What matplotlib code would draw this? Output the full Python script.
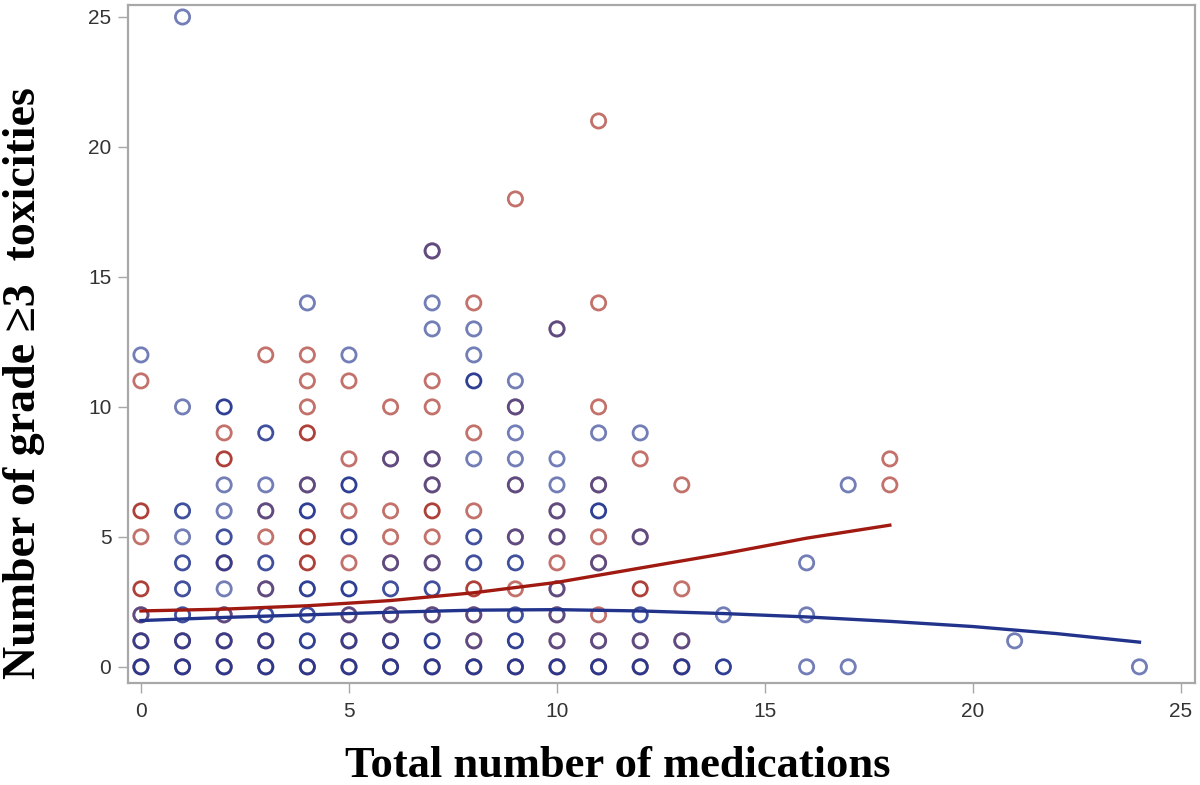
import numpy as np
import matplotlib
matplotlib.use("Agg")
import matplotlib.pyplot as plt

# Scatter data: (x, y, overlap count) for each group
blue_x = [0, 0, 0, 0,
          1, 1, 1, 1, 1, 1, 1, 1, 1,
          2, 2, 2, 2, 2, 2, 2, 2, 2,
          3, 3, 3, 3, 3, 3, 3, 3,
          4, 4, 4, 4, 4, 4, 4,
          5, 5, 5, 5, 5, 5, 5,
          6, 6, 6, 6, 6, 6,
          7, 7, 7, 7, 7, 7, 7, 7, 7, 7,
          8, 8, 8, 8, 8, 8, 8, 8, 8,
          9, 9, 9, 9, 9, 9, 9, 9, 9, 9,
          10, 10, 10, 10, 10, 10, 10, 10, 10,
          11, 11, 11, 11, 11, 11,
          12, 12, 12, 12, 12,
          13, 13, 14, 14, 16, 16, 16, 17, 17, 21, 24]
blue_y = [12, 2, 1, 0,
          25, 10, 6, 5, 4, 3, 2, 1, 0,
          10, 7, 6, 5, 4, 3, 2, 1, 0,
          9, 7, 6, 4, 3, 2, 1, 0,
          14, 7, 6, 3, 2, 1, 0,
          12, 7, 5, 3, 2, 1, 0,
          8, 4, 3, 2, 1, 0,
          16, 14, 13, 8, 7, 4, 3, 2, 1, 0,
          13, 12, 11, 8, 5, 4, 2, 1, 0,
          11, 10, 9, 8, 7, 5, 4, 2, 1, 0,
          13, 8, 7, 6, 5, 3, 2, 1, 0,
          9, 7, 6, 4, 1, 0,
          9, 5, 2, 1, 0,
          1, 0, 2, 0, 4, 2, 0, 7, 0, 1, 0]
blue_n = [1, 1, 2, 3,
          1, 1, 2, 1, 2, 2, 2, 2, 3,
          3, 1, 1, 2, 2, 1, 1, 2, 3,
          2, 1, 1, 2, 1, 2, 2, 3,
          1, 1, 3, 3, 2, 3, 3,
          1, 3, 3, 3, 1, 2, 3,
          1, 1, 2, 1, 2, 3,
          1, 1, 1, 1, 1, 1, 2, 1, 3, 3,
          1, 1, 3, 1, 2, 2, 1, 1, 3,
          1, 1, 1, 1, 1, 1, 2, 2, 3, 3,
          1, 1, 1, 1, 1, 1, 1, 1, 3,
          1, 1, 3, 1, 1, 3,
          1, 1, 2, 1, 3,
          1, 3, 1, 3, 1, 1, 1, 1, 1, 1, 1]

red_x = [0, 0, 0, 0, 0, 0, 0,
         1, 1,
         2, 2, 2, 2, 2, 2,
         3, 3, 3, 3, 3, 3,
         4, 4, 4, 4, 4, 4, 4, 4,
         5, 5, 5, 5, 5, 5, 5,
         6, 6, 6, 6, 6, 6, 6, 6,
         7, 7, 7, 7, 7, 7, 7, 7, 7, 7,
         8, 8, 8, 8, 8, 8, 8,
         9, 9, 9, 9, 9, 9,
         10, 10, 10, 10, 10, 10, 10, 10,
         11, 11, 11, 11, 11, 11, 11, 11, 11,
         12, 12, 12, 12, 12,
         13, 13, 13, 13,
         18, 18]
red_y = [11, 6, 5, 3, 2, 1, 0,
         1, 0,
         9, 8, 4, 2, 1, 0,
         12, 6, 5, 3, 1, 0,
         12, 11, 10, 9, 7, 5, 4, 0,
         11, 8, 6, 4, 2, 1, 0,
         10, 8, 6, 5, 4, 2, 1, 0,
         16, 11, 10, 8, 7, 6, 5, 4, 2, 0,
         14, 9, 6, 3, 2, 1, 0,
         18, 10, 7, 5, 3, 0,
         13, 6, 5, 4, 3, 2, 1, 0,
         21, 14, 10, 7, 5, 4, 2, 1, 0,
         8, 5, 3, 1, 0,
         7, 3, 1, 0,
         8, 7]
red_n = [1, 2, 1, 2, 1, 1, 1,
         1, 1,
         1, 2, 1, 1, 1, 1,
         1, 1, 1, 1, 1, 1,
         1, 1, 1, 2, 1, 2, 2, 1,
         1, 1, 1, 1, 1, 1, 1,
         1, 1, 1, 1, 1, 1, 1, 1,
         1, 1, 1, 1, 1, 2, 1, 1, 1, 1,
         1, 1, 1, 2, 1, 1, 1,
         1, 1, 1, 1, 1, 1,
         1, 1, 1, 1, 1, 1, 1, 1,
         1, 1, 1, 1, 1, 1, 1, 1, 1,
         1, 1, 2, 1, 1,
         1, 1, 1, 1,
         1, 1]

# Fitted curves
red_fit_x = [0, 2, 4, 6, 8, 10, 12, 14, 16, 18]
red_fit_y = [2.15, 2.22, 2.35, 2.55, 2.85, 3.25, 3.8, 4.35, 4.95, 5.45]
blue_fit_x = [0, 2, 4, 6, 8, 10, 12, 14, 16, 18, 20, 22, 24]
blue_fit_y = [1.78, 1.9, 2.0, 2.1, 2.18, 2.2, 2.15, 2.05, 1.92, 1.75, 1.55, 1.28, 0.95]

x_ticks = [0, 5, 10, 15, 20, 25]
y_ticks = [0, 5, 10, 15, 20, 25]


def edge_colors(base, counts, alpha):
    cols = np.zeros((len(counts), 4))
    cols[:, :3] = base
    cols[:, 3] = [1 - (1 - alpha) ** n for n in counts]
    return cols


fig = plt.figure(figsize=(12, 7.85), dpi=100)
ax = fig.add_axes([0.1067, 0.130, 0.8893, 0.8636])

ax.scatter(red_x, red_y, s=105, facecolors="none",
           edgecolors=edge_colors((0.64, 0.16, 0.12), red_n, 0.66),
           linewidths=2.0, zorder=2)
ax.scatter(blue_x, blue_y, s=105, facecolors="none",
           edgecolors=edge_colors((0.14, 0.21, 0.56), blue_n, 0.64),
           linewidths=2.0, zorder=3)

ax.plot(red_fit_x, red_fit_y, color="#a01a12", lw=2.4, zorder=4)
ax.plot(blue_fit_x, blue_fit_y, color="#22338c", lw=2.4, zorder=4)

ax.set_xlim(-0.31, 25.34)
ax.set_ylim(-0.62, 25.46)
ax.set_xticks(x_ticks)
ax.set_yticks(y_ticks)

for sp in ax.spines.values():
    sp.set_color("#a8a8a8")
    sp.set_linewidth(1.6)

ax.tick_params(axis="both", colors="#a8a8a8", length=7, width=1.0,
               labelcolor="#333333", labelsize=15)
ax.tick_params(axis="x", pad=7)
ax.tick_params(axis="y", pad=5)
for lab in ax.get_xticklabels() + ax.get_yticklabels():
    lab.set_family(["Liberation Sans", "DejaVu Sans"])

fig.text(618 / 1200, 1 - 766 / 785, "Total number of medications",
         ha="center", va="center", fontsize=32, fontweight="bold",
         family=["Liberation Serif", "DejaVu Serif"])
fig.text(24 / 1200, 1 - 383 / 785, "Number of grade \u22653  toxicities",
         ha="center", va="center", rotation=90, fontsize=33,
         fontweight="bold", family=["Liberation Serif", "DejaVu Serif"])

fig.savefig("out.png", dpi=100)
